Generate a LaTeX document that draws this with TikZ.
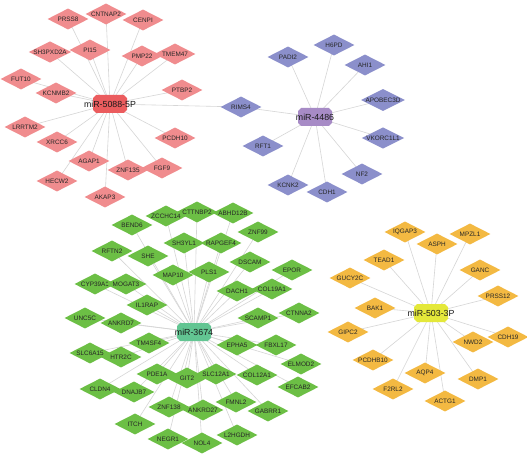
\documentclass[tikz,border=0pt]{standalone}
\usepackage{fontspec}
\setmainfont{Liberation Sans}
\usepackage{xcolor}
\usetikzlibrary{shapes.geometric,shapes.misc,backgrounds}
\definecolor{redgene}{HTML}{F08C8E}
\definecolor{redmir}{HTML}{EB5C5E}
\definecolor{bluegene}{HTML}{8B8FCB}
\definecolor{bluemir}{HTML}{A78BC6}
\definecolor{greengene}{HTML}{6CBF45}
\definecolor{greenmir}{HTML}{62C592}
\definecolor{orangegene}{HTML}{F3B942}
\definecolor{yellowmir}{HTML}{E4E83A}
\newcommand{\GL}{\fontsize{6.4}{7.5}\selectfont}
\newcommand{\ML}{\fontsize{8.8}{10}\selectfont}

\begin{document}
\begin{tikzpicture}[x=1pt,y=-1pt]
\tikzstyle{gene}=[diamond,shape aspect=2,minimum width=41pt,minimum height=21pt,inner sep=0pt,font=\GL,text=black!85]
\tikzstyle{redg}=[gene,fill=redgene]
\tikzstyle{blueg}=[gene,fill=bluegene]
\tikzstyle{greeng}=[gene,fill=greengene]
\tikzstyle{orangeg}=[gene,fill=orangegene]
\tikzstyle{mir}=[chamfered rectangle,chamfered rectangle xsep=5pt,chamfered rectangle ysep=5pt,minimum width=34pt,minimum height=18pt,inner sep=0pt,font=\ML,text=black!90]
\tikzstyle{line}=[black!16,line width=0.6pt]

\useasboundingbox (0,0) rectangle (527,457);

% miR-5088-5P
\node[mir,fill=redmir] (m5088) at (110,104) {\makebox[0pt]{miR-5088-5P}};
\node[redg] (PRSS8)    at (68,19)   {PRSS8};
\node[redg] (CNTNAP2)  at (106,14)  {CNTNAP2};
\node[redg] (CENPI)    at (143,20)  {CENPI};
\node[redg] (SH3PXD2A) at (50,52)   {SH3PXD2A};
\node[redg] (PI15)     at (90,50)   {PI15};
\node[redg] (PMP22)    at (142,56)  {PMP22};
\node[redg] (TMEM47)   at (175,54)  {TMEM47};
\node[redg] (FUT10)    at (21,79)   {FUT10};
\node[redg] (KCNMB2)   at (56,93)   {KCNMB2};
\node[redg] (PTBP2)    at (182,90)  {PTBP2};
\node[redg] (LRRTM2)   at (25,127)  {LRRTM2};
\node[redg] (XRCC6)    at (57,142)  {XRCC6};
\node[redg] (PCDH10)   at (175,138) {PCDH10};
\node[redg] (AGAP1)    at (89,161)  {AGAP1};
\node[redg] (ZNF135)   at (128,170) {ZNF135};
\node[redg] (FGF9)     at (162,168) {FGF9};
\node[redg] (HECW2)    at (57,181)  {HECW2};
\node[redg] (AKAP3)    at (105,197) {AKAP3};

% miR-4486
\node[mir,fill=bluemir] (m4486) at (315,117) {\makebox[0pt]{miR-4486}};
\node[blueg] (H6PD)     at (334,45)  {H6PD};
\node[blueg] (PADI2)    at (288,57)  {PADI2};
\node[blueg] (AHI1)     at (365,65)  {AHI1};
\node[blueg] (RIMS4)    at (241,107) {RIMS4};
\node[blueg] (APOBEC3D) at (383,100) {APOBEC3D};
\node[blueg] (RFT1)     at (263,146) {RFT1};
\node[blueg] (VKORC1L1) at (383,138) {VKORC1L1};
\node[blueg] (NF2)      at (362,174) {NF2};
\node[blueg] (KCNK2)    at (288,185) {KCNK2};
\node[blueg] (CDH1)     at (327,192) {CDH1};

% miR-3674
\node[mir,fill=greenmir] (m3674) at (194,332) {\makebox[0pt]{miR-3674}};
\node[greeng] (ZCCHC14) at (166,216) {ZCCHC14};
\node[greeng] (CTTNBP2) at (197,212) {CTTNBP2};
\node[greeng] (ABHD12B) at (233,213) {ABHD12B};
\node[greeng] (BEND6)   at (132,225) {BEND6};
\node[greeng] (SH3YL1)  at (184,243) {SH3YL1};
\node[greeng] (RAPGEF4) at (221,243) {RAPGEF4};
\node[greeng] (ZNF99)   at (258,232) {ZNF99};
\node[greeng] (RFTN2)   at (112,251) {RFTN2};
\node[greeng] (SHE)     at (148,256) {SHE};
\node[greeng] (DSCAM)   at (250,262) {DSCAM};
\node[greeng] (MAP10)   at (173,275) {MAP10};
\node[greeng] (PLS1)    at (209,272) {PLS1};
\node[greeng] (EPOR)    at (292,270) {EPOR};
\node[greeng] (CYP39A1) at (95,284)  {CYP39A1};
\node[greeng] (MOGAT3)  at (126,284) {MOGAT3};
\node[greeng] (DACH1)   at (237,291) {DACH1};
\node[greeng] (COL19A1) at (272,289) {COL19A1};
\node[greeng] (IL1RAP)  at (147,305) {IL1RAP};
\node[greeng] (UNC5C)   at (85,318)  {UNC5C};
\node[greeng] (ANKRD7)  at (121,323) {ANKRD7};
\node[greeng] (SCAMP1)  at (258,318) {SCAMP1};
\node[greeng] (CTNNA2)  at (299,313) {CTNNA2};
\node[greeng] (TM4SF4)  at (149,343) {TM4SF4};
\node[greeng] (SLC6A15) at (90,353)  {SLC6A15};
\node[greeng] (HTR2C)   at (121,357) {HTR2C};
\node[greeng] (EPHA5)   at (237,345) {EPHA5};
\node[greeng] (FBXL17)  at (276,345) {FBXL17};
\node[greeng] (ELMOD2)  at (301,364) {ELMOD2};
\node[greeng] (PDE1A)   at (157,374) {PDE1A};
\node[greeng] (GIT2)    at (187,378) {GIT2};
\node[greeng] (SLC12A1) at (216,374) {SLC12A1};
\node[greeng] (COL12A1) at (257,375) {COL12A1};
\node[greeng] (EFCAB2)  at (298,387) {EFCAB2};
\node[greeng] (CLDN4)   at (100,389) {CLDN4};
\node[greeng] (DNAJB7)  at (134,392) {DNAJB7};
\node[greeng] (ZNF138)  at (169,407) {ZNF138};
\node[greeng] (ANKRD27) at (203,410) {ANKRD27};
\node[greeng] (FMNL2)   at (236,402) {FMNL2};
\node[greeng] (GABRR1)  at (268,411) {GABRR1};
\node[greeng] (ITCH)    at (135,424) {ITCH};
\node[greeng] (NEGR1)   at (168,439) {NEGR1};
\node[greeng] (NOL4)    at (202,443) {NOL4};
\node[greeng] (L2HGDH)  at (237,435) {L2HGDH};

% miR-503-3P
\node[mir,fill=yellowmir] (m503) at (431,313) {\makebox[0pt]{miR-503-3P}};
\node[orangeg] (IQGAP3)  at (405,232) {IQGAP3};
\node[orangeg] (MPZL1)   at (470,234) {MPZL1};
\node[orangeg] (ASPH)    at (437,244) {ASPH};
\node[orangeg] (TEAD1)   at (384,260) {TEAD1};
\node[orangeg] (GANC)    at (480,270) {GANC};
\node[orangeg] (GUCY2C)  at (350,278) {GUCY2C};
\node[orangeg] (PRSS12)  at (498,296) {PRSS12};
\node[orangeg] (BAK1)    at (375,308) {BAK1};
\node[orangeg] (GIPC2)   at (348,332) {GIPC2};
\node[orangeg] (CDH19)   at (508,337) {CDH19};
\node[orangeg] (NWD2)    at (473,342) {NWD2};
\node[orangeg] (PCDHB10) at (373,360) {PCDHB10};
\node[orangeg] (AQP4)    at (425,373) {AQP4};
\node[orangeg] (DMP1)    at (478,379) {DMP1};
\node[orangeg] (F2RL2)   at (393,389) {F2RL2};
\node[orangeg] (ACTG1)   at (445,401) {ACTG1};

\begin{scope}[on background layer]
\fill[white] (0,0) rectangle (527,457);
\foreach \g in {PRSS8,CNTNAP2,CENPI,SH3PXD2A,PI15,PMP22,TMEM47,FUT10,KCNMB2,PTBP2,LRRTM2,XRCC6,PCDH10,AGAP1,ZNF135,FGF9,HECW2,AKAP3,RIMS4}
  \draw[line] (m5088.center) -- (\g.center);
\foreach \g in {H6PD,PADI2,AHI1,RIMS4,APOBEC3D,RFT1,VKORC1L1,NF2,KCNK2,CDH1}
  \draw[line] (m4486.center) -- (\g.center);
\foreach \g in {ZCCHC14,CTTNBP2,ABHD12B,BEND6,SH3YL1,RAPGEF4,ZNF99,RFTN2,SHE,DSCAM,MAP10,PLS1,EPOR,CYP39A1,MOGAT3,DACH1,COL19A1,IL1RAP,UNC5C,ANKRD7,SCAMP1,CTNNA2,TM4SF4,SLC6A15,HTR2C,EPHA5,FBXL17,ELMOD2,PDE1A,GIT2,SLC12A1,COL12A1,EFCAB2,CLDN4,DNAJB7,ZNF138,ANKRD27,FMNL2,GABRR1,ITCH,NEGR1,NOL4,L2HGDH}
  \draw[line] (m3674.center) -- (\g.center);
\foreach \g in {IQGAP3,MPZL1,ASPH,TEAD1,GANC,GUCY2C,PRSS12,BAK1,GIPC2,CDH19,NWD2,PCDHB10,AQP4,DMP1,F2RL2,ACTG1}
  \draw[line] (m503.center) -- (\g.center);
\end{scope}
\end{tikzpicture}
\end{document}
